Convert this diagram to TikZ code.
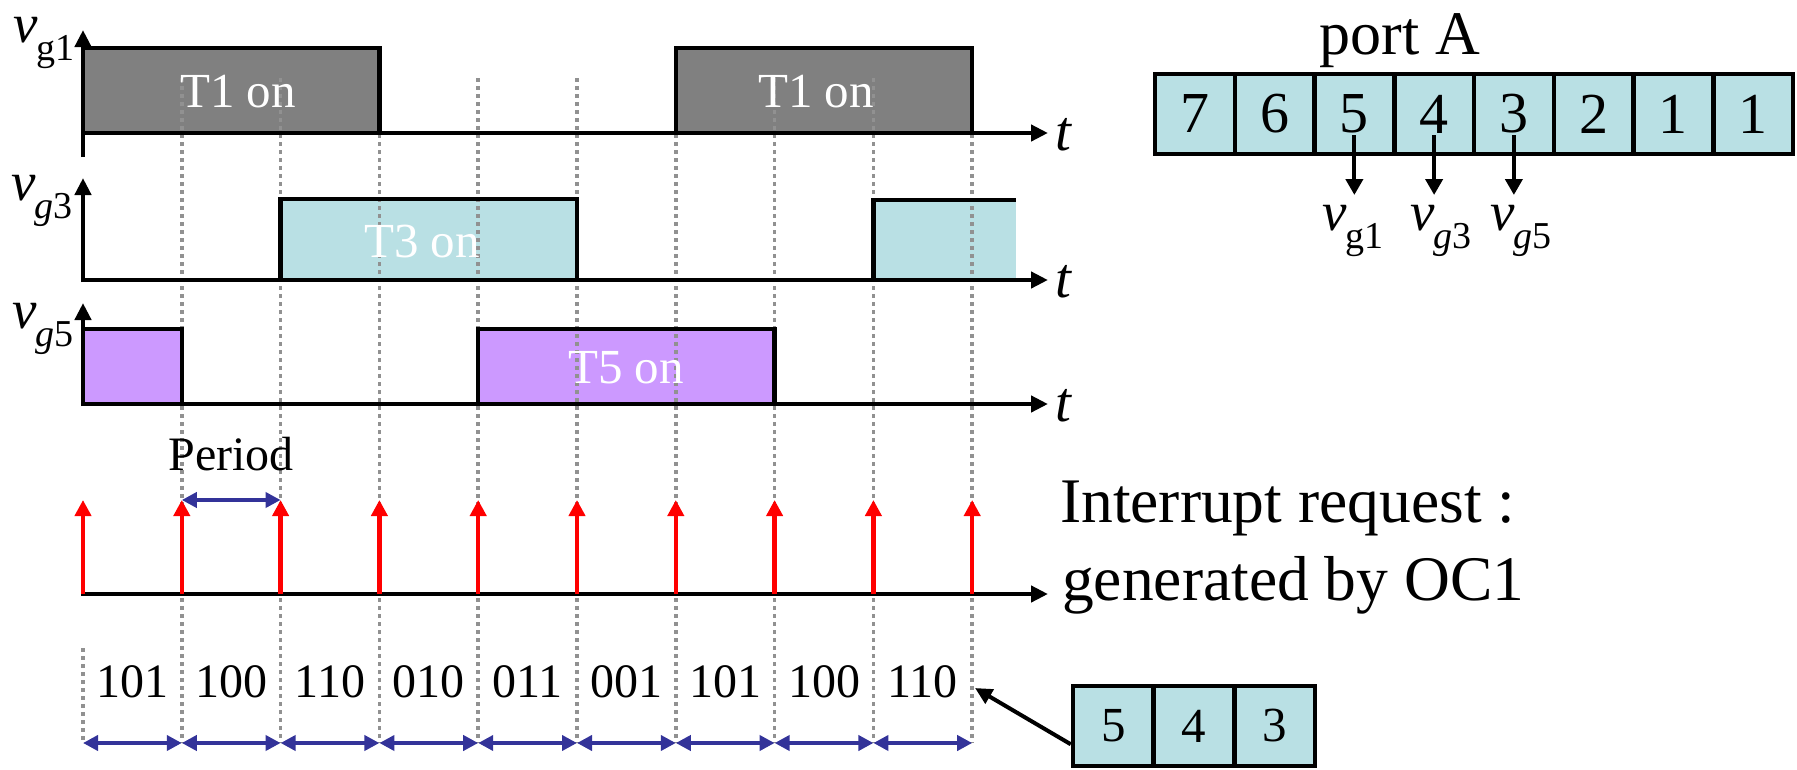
\documentclass[tikz,border=0pt]{standalone}
\usepackage{fontspec}
\setmainfont{Liberation Serif}
\usetikzlibrary{arrows.meta}
\definecolor{t1gray}{RGB}{128,128,128}
\definecolor{cyanbox}{RGB}{185,224,228}
\definecolor{purplebox}{RGB}{204,153,255}
\definecolor{navyblue}{RGB}{51,51,153}
\definecolor{dotgray}{RGB}{145,145,145}
\newcommand\fs[1]{\fontsize{#1}{#1}\selectfont}
\newcommand\vsubl[1]{{\fs{55}\textit{v}}\kern-1pt\raisebox{-18pt}{\fs{38}#1}}
\tikzset{
  axis/.style={line width=4.5pt, -{Triangle[length=17pt,width=16pt]}},
  boxline/.style={line width=4.5pt, line join=miter},
  gridline/.style={draw=dotgray, line width=3.5pt, dash pattern=on 3.5pt off 4.5pt},
  irq/.style={draw=red, line width=4.5pt, -{Triangle[length=16pt,width=16pt,fill=red]}},
  span/.style={draw=navyblue, line width=4pt, {Triangle[length=15pt,width=15pt]}-{Triangle[length=15pt,width=15pt]}},
  oncap/.style={text=white, font=\fs{49}, inner sep=0pt},
  portcell/.style={draw, line width=4.5pt, fill=cyanbox, minimum width=79.75pt, minimum height=80pt, inner sep=0pt, font=\fs{58}},
  smallcell/.style={draw, line width=4.5pt, fill=cyanbox, minimum width=80.7pt, minimum height=80pt, inner sep=0pt, font=\fs{49}},
  tlabel/.style={anchor=base west, inner sep=0pt, font=\fs{57}\itshape},
  plain/.style={inner sep=0pt},
}
\begin{document}
\begin{tikzpicture}[x=1pt,y=-1pt]
\useasboundingbox (0,0) rectangle (1797,769);
% grid x positions
\foreach \k in {0,...,9}{\coordinate (g\k) at ({83+\k*98.8},0);}
% box fills
\fill[t1gray] (g0 |- 0,48) rectangle (g3 |- 0,133);
\fill[t1gray] (g6 |- 0,48) rectangle (g9 |- 0,133);
\fill[cyanbox] (g2 |- 0,199) rectangle (g5 |- 0,280);
\fill[cyanbox] (g8 |- 0,200) rectangle (1016,280);
\fill[purplebox] (g0 |- 0,329) rectangle (g1 |- 0,404);
\fill[purplebox] (g4 |- 0,329) rectangle (g7 |- 0,404);
% dotted grid
\draw[gridline] (g0 |- 0,648) -- (g0 |- 0,743);
\foreach \k in {1,...,9}{\draw[gridline] (g\k |- 0,78) -- (g\k |- 0,743);}
% box borders
\draw[boxline] (g0 |- 0,48) -- (g3 |- 0,48) -- (g3 |- 0,133);
\draw[boxline] (g6 |- 0,133) -- (g6 |- 0,48) -- (g9 |- 0,48) -- (g9 |- 0,133);
\draw[boxline] (g2 |- 0,280) -- (g2 |- 0,199) -- (g5 |- 0,199) -- (g5 |- 0,280);
\draw[boxline] (g8 |- 0,280) -- (g8 |- 0,200) -- (1016,200);
\draw[boxline] (g0 |- 0,329) -- (g1 |- 0,329) -- (g1 |- 0,404);
\draw[boxline] (g4 |- 0,404) -- (g4 |- 0,329) -- (g7 |- 0,329) -- (g7 |- 0,404);
% on labels
\node[oncap] (on1) at (238,92) {T1 on};
\node[oncap] (on2) at (816,92) {T1 on};
\node[oncap] (on3) at (422,242) {T3 on};
\node[oncap] (on5) at (626,368) {T5 on};
% axes
\coordinate (a1b) at (83,157); \coordinate (a1t) at (83,30);
\coordinate (a1o) at (83,133); \coordinate (a1e) at (1048,133);
\draw[axis] (a1b) -- (a1t);
\draw[axis] (a1o) -- (a1e);
\coordinate (a3o) at (83,280); \coordinate (a3t) at (83,178); \coordinate (a3e) at (1048,280);
\draw[axis] ([yshift=-2pt]a3o) -- (a3t);
\draw[axis] ([xshift=-2pt]a3o) -- (a3e);
\coordinate (a5o) at (83,404); \coordinate (a5t) at (83,303); \coordinate (a5e) at (1048,404);
\draw[axis] ([yshift=-2pt]a5o) -- (a5t);
\draw[axis] ([xshift=-2pt]a5o) -- (a5e);
\coordinate (a7o) at (83,594); \coordinate (a7e) at (1048,594);
\draw[axis] ([xshift=-2pt]a7o) -- (a7e);
% t labels
\node[tlabel] (t1) at (1055,150) {t};
\node[tlabel] (t3) at (1055,297) {t};
\node[tlabel] (t5) at (1055,421) {t};
% signal names
\node[plain, anchor=base west] (n1) at (13,42) {\vsubl{g1}};
\node[plain, anchor=base west] (n3) at (11,200) {\vsubl{\textit{g}3}};
\node[plain, anchor=base west] (n5) at (12,328) {\vsubl{\textit{g}5}};
% interrupt arrows
\foreach \k in {0,...,9}{\draw[irq] (g\k |- 0,594) -- (g\k |- 0,500);}
\draw[span] (g1 |- 0,500) -- (g2 |- 0,500);
\node[plain, anchor=base, font=\fs{48}] (per) at (231,470) {Period};
\node[plain, anchor=base west, font=\fs{63.5}] (irq1) at (1060,522) {Interrupt request :};
\node[plain, anchor=base west, font=\fs{63.5}] (irq2) at (1062,600) {generated by OC1};
% bottom codes
\foreach \k/\c in {0/101,1/100,2/110,3/010,4/011,5/001,6/101,7/100,8/110}{
  \pgfmathtruncatemacro\kn{\k+1}
  \node[plain, anchor=base, font=\fs{48}] (code\k) at ({83+(\k+0.5)*98.8},697) {\c};
  \draw[span] (g\k |- 0,743) -- (g\kn |- 0,743);
}
% port A
\node[plain, anchor=base, font=\fs{62}] (portA) at (1400,54) {port A};
\foreach \i/\d in {0/7,1/6,2/5,3/4,4/3,5/2,6/1,7/1}{
  \node[portcell] (p\i) at ({1155+(\i+0.5)*79.75},114) {\d};
}
\foreach \i in {2,3,4}{
  \draw[line width=4pt, -{Triangle[length=16pt,width=17pt]}] ([yshift=-21pt]p\i.center) -- ([yshift=-81pt]p\i.center);
}
\node[plain, anchor=base west] (o1) at (1322,230) {\vsubl{g1}};
\node[plain, anchor=base west] (o3) at (1410,230) {\vsubl{\textit{g}3}};
\node[plain, anchor=base west] (o5) at (1490,230) {\vsubl{\textit{g}5}};
% 5 4 3 register
\foreach \i/\d in {0/5,1/4,2/3}{
  \node[smallcell] (s\i) at ({1073+(\i+0.5)*80.7},726) {\d};
}
\coordinate (codetip) at (975,688);
\draw[line width=4pt, -{Triangle[length=17pt,width=16pt]}] ([yshift=24pt]s0.south west) -- (codetip);
\end{tikzpicture}
\end{document}
